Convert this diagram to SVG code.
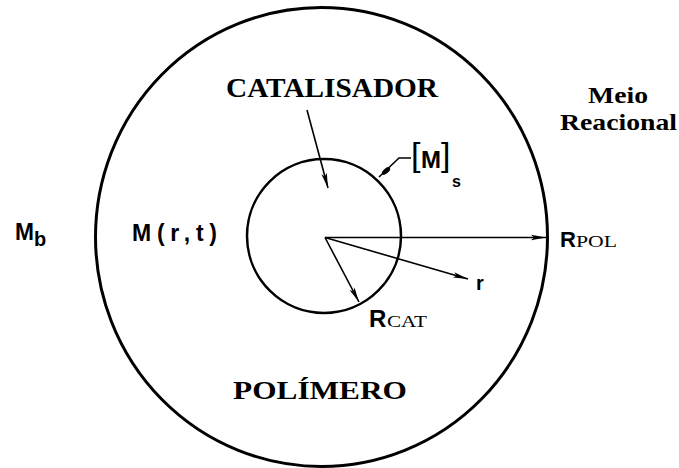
<svg xmlns="http://www.w3.org/2000/svg" width="679" height="468" viewBox="0 0 679 468">
<style>
.ln{fill:none;stroke:#000;stroke-width:1.6}
.serif{font-family:"Liberation Serif","Times New Roman",serif;font-weight:bold;fill:#000}
.sans{font-family:"Liberation Sans",Arial,sans-serif;fill:#000}
.sub{font-family:"Liberation Serif","Times New Roman",serif;font-weight:normal}
</style>
<defs>
<marker id="ah" markerUnits="userSpaceOnUse" markerWidth="16" markerHeight="8" refX="15" refY="4" orient="auto">
<path d="M0,1.2 L15,4 L0,6.8 L3,4 Z" fill="#000"/>
</marker>
</defs>
<rect width="679" height="468" fill="#fff"/>
<g id="polimero">
<ellipse cx="321.5" cy="237" rx="226" ry="229.5" fill="none" stroke="#000" stroke-width="3"/>
<text class="serif" x="233" y="399" font-size="25" textLength="174" lengthAdjust="spacingAndGlyphs">POLÍMERO</text>
</g>
<g id="catalisador">
<circle cx="324" cy="236" r="77" fill="none" stroke="#000" stroke-width="2.5"/>
<text class="serif" x="226" y="97" font-size="28" textLength="212" lengthAdjust="spacingAndGlyphs">CATALISADOR</text>
</g>
<g id="meio">
<text class="serif" x="588" y="103" font-size="23" textLength="60" lengthAdjust="spacingAndGlyphs">Meio</text>
<text class="serif" x="560" y="130" font-size="23" textLength="117" lengthAdjust="spacingAndGlyphs">Reacional</text>
</g>
<g id="mb">
<text class="sans" font-weight="bold"><tspan x="15" y="240" font-size="23" textLength="19" lengthAdjust="spacingAndGlyphs">M</tspan><tspan x="34" y="246" font-size="20">b</tspan></text>
</g>
<g id="mrt">
<text class="sans" x="132" y="241" font-size="23" font-weight="bold" textLength="85" lengthAdjust="spacing">M(r,t)</text>
</g>
<g id="ms">
<text class="sans"><tspan x="411" y="166" font-size="34">[</tspan><tspan x="421" y="168" font-size="24" font-weight="bold" textLength="20" lengthAdjust="spacingAndGlyphs">M</tspan><tspan x="441" y="166" font-size="34">]</tspan><tspan x="452" y="187" font-size="16" font-weight="bold">s</tspan></text>
</g>
<g id="r-label">
<text class="sans" x="476" y="290" font-size="20" font-weight="bold">r</text>
</g>
<g id="rcat">
<text class="sans" font-weight="bold"><tspan x="369" y="327" font-size="24">R</tspan><tspan class="sub" x="387" y="327" font-size="17" textLength="40" lengthAdjust="spacingAndGlyphs">CAT</tspan></text>
</g>
<g id="rpol">
<text class="sans" font-weight="bold"><tspan x="560" y="247" font-size="22">R</tspan><tspan class="sub" x="576" y="247" font-size="17" textLength="41" lengthAdjust="spacingAndGlyphs">POL</tspan></text>
</g>
<g id="connectors">
<line class="ln" x1="307" y1="110" x2="328" y2="188" marker-end="url(#ah)"/>
<line class="ln" x1="325" y1="237.5" x2="546" y2="237.5" marker-end="url(#ah)"/>
<line class="ln" x1="325" y1="237.5" x2="468" y2="279" marker-end="url(#ah)"/>
<line class="ln" x1="325" y1="237.5" x2="359" y2="302" marker-end="url(#ah)"/>
<path class="ln" d="M379,177 L399,158 L411,158"/>
<ellipse cx="386" cy="171" rx="5" ry="2.5" transform="rotate(-42 386 171)" fill="#000"/>
</g>
</svg>
